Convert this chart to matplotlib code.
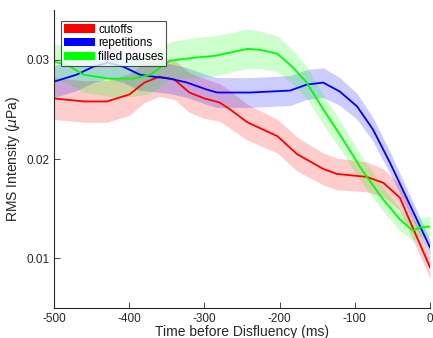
import matplotlib
matplotlib.use("Agg")
import matplotlib.pyplot as plt
import numpy as np
from matplotlib.patches import Patch

plt.rcParams['font.family'] = ['Liberation Sans', 'DejaVu Sans']

# cutoffs
t_cut = [-500, -460, -430, -400, -380, -360, -340, -320, -300, -280, -266, -243, -203, -177, -142, -124, -84, -62, -40, -23, 0]
v_cut = [0.0261, 0.0258, 0.0258, 0.0265, 0.0277, 0.0283, 0.0280, 0.0267, 0.0261, 0.0257, 0.0250, 0.0237, 0.0223, 0.0205, 0.0190, 0.0185, 0.0182, 0.0176, 0.0161, 0.0131, 0.0091]
e_cut = [0.0021, 0.0021, 0.0021, 0.0021, 0.0020, 0.0020, 0.0020, 0.0020, 0.0020, 0.0019, 0.0019, 0.0018, 0.0017, 0.0017, 0.0016, 0.0016, 0.0015, 0.0014, 0.0013, 0.0012, 0.0011]

# repetitions
t_rep = [-500, -470, -448, -428, -408, -386, -368, -346, -323, -297, -283, -239, -186, -164, -142, -120, -97, -76, -53, 0]
v_rep = [0.0278, 0.0285, 0.0293, 0.0297, 0.0293, 0.0285, 0.0283, 0.0281, 0.0277, 0.0270, 0.0267, 0.0267, 0.0269, 0.0275, 0.0277, 0.0268, 0.0253, 0.0230, 0.0196, 0.0111]
e_rep = [0.0016, 0.0016, 0.0016, 0.0016, 0.0016, 0.0016, 0.0015, 0.0015, 0.0015, 0.0015, 0.0015, 0.0015, 0.0015, 0.0015, 0.0015, 0.0014, 0.0013, 0.0012, 0.0011, 0.0008]

# filled pauses
t_fp = [-500, -483, -461, -426, -395, -372, -346, -315, -286, -243, -226, -203, -182, -164, -142, -116, -93, -84, -62, -40, -23, -13, 0]
v_fp = [0.0298, 0.0295, 0.0285, 0.0281, 0.0281, 0.0285, 0.0299, 0.0302, 0.0304, 0.0311, 0.0310, 0.0306, 0.0292, 0.0277, 0.0250, 0.0220, 0.0192, 0.0182, 0.0159, 0.0139, 0.0128, 0.0131, 0.0132]
e_fp = [0.0018, 0.0018, 0.0018, 0.0018, 0.0018, 0.0019, 0.0019, 0.0020, 0.0020, 0.0020, 0.0019, 0.0018, 0.0017, 0.0016, 0.0015, 0.0014, 0.0013, 0.0013, 0.0012, 0.0011, 0.0010, 0.0010, 0.0010]

labels = ['cutoffs', 'repetitions', 'filled pauses']
colors = ['#ff0000', '#0000ff', '#00ff00']

fig = plt.figure(figsize=(4.33, 3.38), dpi=100)
ax = fig.add_axes([0.125, 0.089, 0.868, 0.881])

series = [(t_cut, v_cut, e_cut), (t_rep, v_rep, e_rep), (t_fp, v_fp, e_fp)]
for (t, v, e), c in zip(series, colors):
    t = np.array(t); v = np.array(v); e = np.array(e)
    ax.fill_between(t, v - e, v + e, color=c, alpha=0.2, linewidth=0)
for (t, v, e), c in zip(series, colors):
    ax.plot(t, v, color=c, linewidth=1.3)

ax.set_xlim(-500, 0)
ax.set_ylim(0.005, 0.035)
ax.set_xticks([-500, -400, -300, -200, -100, 0])
ax.set_xticklabels(['-500', '-400', '-300', '-200', '-100', '0'])
ax.set_yticks([0.01, 0.02, 0.03])
ax.set_yticklabels(['0.01', '0.02', '0.03'])
ax.tick_params(direction='in', length=4, labelsize=8.5, colors='#262626', width=0.6)
for s in ['top', 'right']:
    ax.spines[s].set_visible(False)
for s in ['left', 'bottom']:
    ax.spines[s].set_color('#262626')
    ax.spines[s].set_linewidth(0.8)

ax.set_xlabel('Time before Disfluency (ms)', fontsize=10, color='#262626', labelpad=0)
ax.set_ylabel(r'RMS Intensity ($\mu$Pa)', fontsize=10, color='#262626', labelpad=3)

handles = [Patch(facecolor=c, edgecolor='none') for c in colors]
leg = ax.legend(handles, labels, loc='upper left', bbox_to_anchor=(0.018, 0.965),
                fontsize=8.5, frameon=True, fancybox=False, handlelength=2.6,
                handleheight=0.7, handletextpad=0.3, labelspacing=0.15,
                borderpad=0.25, borderaxespad=0)
leg.get_frame().set_edgecolor('#262626')
leg.get_frame().set_linewidth(0.8)

fig.savefig('out.png', dpi=100)
